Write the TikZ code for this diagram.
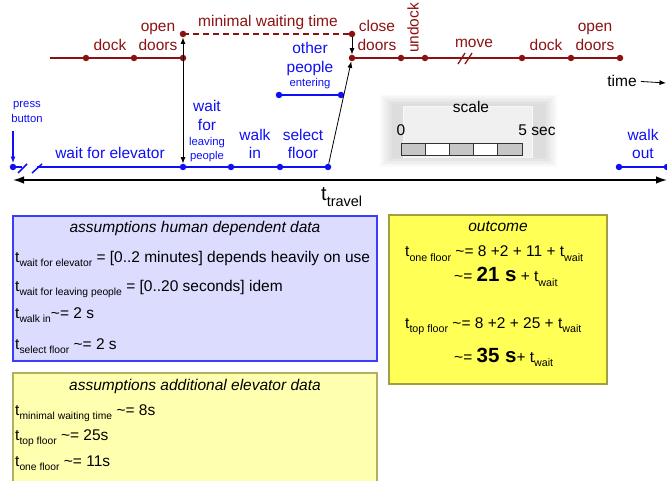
\documentclass[tikz,border=0pt]{standalone}
\usepackage{fontspec}
\setmainfont{Liberation Sans}
\usetikzlibrary{arrows.meta}
\definecolor{brn}{RGB}{140,18,18}
\definecolor{blu}{RGB}{15,15,245}
\definecolor{bluefill}{RGB}{220,220,255}
\definecolor{blueedge}{RGB}{60,60,255}
\definecolor{yelfill}{RGB}{255,255,176}
\definecolor{yeledge}{RGB}{176,176,96}
\definecolor{outfill}{RGB}{255,255,85}
\definecolor{outedge}{RGB}{160,160,64}
\newcommand{\sbs}[1]{\raisebox{-4pt}{\fontsize{10.3}{10}\selectfont #1}}
\newcommand{\sbt}[1]{\raisebox{-4.5pt}{\fontsize{10.7}{10}\selectfont #1}}
\newcommand{\ap}{\textasciitilde=}
\begin{document}
\begin{tikzpicture}[x=1pt,y=-1pt,
  lbl/.style={inner sep=0pt, anchor=base, font=\fontsize{15.5}{18}\selectfont},
  sml/.style={inner sep=0pt, anchor=base, font=\fontsize{11.3}{13}\selectfont},
  bl/.style={lbl, text=blu}, bls/.style={sml, text=blu}, br/.style={lbl, text=brn},
  txt/.style={inner sep=0pt, anchor=base west, font=\fontsize{15.5}{18}\selectfont},
  ttl/.style={inner sep=0pt, anchor=base, font=\fontsize{15.5}{18}\selectfont\itshape},
  bdot/.style={circle, fill=brn, inner sep=0pt, minimum size=6.5pt},
  udot/.style={circle, fill=blu, inner sep=0pt, minimum size=6.5pt},
  brline/.style={draw=brn, line width=2pt},
  buline/.style={draw=blu, line width=2pt},
  thinarrow/.style={draw=black, line width=0.8pt},
  mytip/.tip={Latex[length=6.5pt,width=5pt]},
  bigtip/.tip={Latex[length=11pt,width=7.5pt]}
]
\useasboundingbox (0,0) rectangle (667,481);

% ---------- scale box ----------
\foreach \i in {0,...,6} {
  \fill[black, opacity=0.018] (380+2*\i,95+1.5*\i) rectangle (557-2*\i,167-1.5*\i);
}
\filldraw[fill=gray!12, draw=gray!6, line width=0.8pt] (403,106) rectangle (532,157);
\node[lbl] (sc) at (471,113) {scale};
\node[lbl] (s0) at (401,136) {0};
\node[lbl] (s5) at (537,136) {5 sec};
\foreach \i/\c in {0/gray!45,1/white,2/gray!45,3/white,4/gray!45} {
  \filldraw[fill=\c, draw=black!80, line width=0.8pt] (401+24.2*\i,143) rectangle (401+24.2*\i+24.2,155);
}

% ---------- brown (elevator) timeline ----------
\coordinate (bs) at (50,58);
\node[bdot] (b1) at (86,58) {};
\node[bdot] (b2) at (134,58) {};
\node[bdot] (b3) at (183,58) {};
\node[bdot] (o1) at (183,34) {};
\node[bdot] (c1) at (352,34) {};
\node[bdot] (c2) at (352,58) {};
\node[bdot] (b4) at (401,58) {};
\node[bdot] (b5) at (425,58) {};
\node[bdot] (b6) at (522,58) {};
\node[bdot] (b7) at (571,58) {};
\node[bdot] (b8) at (620,58) {};
\draw[brline] (bs) -- (b3.center);
\draw[brline] (c2.center) -- (b8.center);
\draw[brline, dash pattern=on 6pt off 4pt] (o1.center) -- (c1.center);
\draw[draw=brn, line width=1.3pt] (458,64) -- (465,53);
\draw[draw=brn, line width=1.3pt] (465,64) -- (472,53);

\node[br] (l1) at (110,51) {dock};
\node[br] (l2) at (158,32) {open};
\node[br] (l3) at (158,51) {doors};
\node[br] (l4) at (268,27) {minimal waiting time};
\node[br] (l5) at (377,32) {close};
\node[br] (l6) at (377,51) {doors};
\node[lbl, text=brn, anchor=center, rotate=90] (l7) at (413,28) {undock};
\node[br] (l8) at (474,48) {move};
\node[br] (l9) at (546,51) {dock};
\node[br] (l10) at (595,32) {open};
\node[br] (l11) at (595,51) {doors};

% ---------- blue (person) timeline ----------
\node[udot] (p0) at (13,167) {};
\node[udot] (p1) at (183,167) {};
\node[udot] (p2) at (231,167) {};
\node[udot] (p3) at (280,167) {};
\node[udot] (p4) at (328,167) {};
\coordinate (g1) at (22,167);
\coordinate (g2) at (37,167);
\draw[buline] (p0.center) -- (g1);
\draw[buline] (g2) -- (p4.center);
\draw[draw=blu, line width=1.5pt] (18,173) -- (27,164);
\draw[draw=blu, line width=1.5pt] (32,173) -- (42,164);
\node[udot] (e1) at (279,95) {};
\node[udot] (e2) at (341,95) {};
\draw[buline] (e1.center) -- (e2.center);
\node[udot] (w1) at (619,167) {};
\node[udot] (w2) at (667,167) {};
\draw[buline] (w1.center) -- (w2.center);

\coordinate (pb) at (13,131);
\draw[draw=blu, line width=1.5pt, -{Latex[length=7pt,width=5pt]}] (pb) -- (p0);

\node[bls] (t1) at (27,108) {press};
\node[bls] (t2) at (27,123) {button};
\node[bl] (t3) at (110,159) {wait for elevator};
\node[bl] (t4) at (207,112) {wait};
\node[bl] (t5) at (207,131) {for};
\node[bls] (t6) at (207,146) {leaving};
\node[bls] (t7) at (207,160) {people};
\node[bl] (t8) at (255,141) {walk};
\node[bl] (t9) at (255,159) {in};
\node[bl] (t10) at (303,141) {select};
\node[bl] (t11) at (303,159) {floor};
\node[bl] (t12) at (310,54) {other};
\node[bl] (t13) at (310,73) {people};
\node[bls] (t14) at (310,87) {entering};
\node[bl] (t15) at (643,141) {walk};
\node[bl] (t16) at (643,159) {out};

% ---------- black connectors ----------
\draw[thinarrow, mytip-mytip] (o1) -- (p1);
\draw[thinarrow, -mytip] (c1) -- (c2);
\draw[thinarrow, -mytip] (p4) -- (c2);
\coordinate (ax1) at (13,180);
\coordinate (ax2) at (667,180);
\draw[line width=1.5pt, bigtip-bigtip] (ax1) -- (ax2);
\node[inner sep=0pt, anchor=base west, font=\fontsize{20}{22}\selectfont] (tt) at (321,201) {t\raisebox{-6pt}{\fontsize{14.5}{14}\selectfont travel}};
\node[lbl] (tm) at (622,87) {time};
\coordinate (te) at (666,83);
\draw[thinarrow, -mytip] ([xshift=4pt]tm.east) -- (te);

% ---------- assumption boxes ----------
\filldraw[fill=bluefill, draw=blueedge, line width=1.2pt] (13,216) rectangle (377,361);
\node[ttl] (h1) at (195,233) {assumptions human dependent data};
\node[txt] (h2) at (15,263) {t\sbs{wait for elevator} = [0..2 minutes] depends heavily on use};
\node[txt] (h3) at (15,291) {t\sbs{wait for leaving people} = [0..20 seconds] idem};
\node[txt] (h4) at (15,319) {t\sbs{walk in}\ap{} 2 s};
\node[txt] (h5) at (15,349) {t\sbs{select floor} \ap{} 2 s};

\filldraw[fill=yelfill, draw=yeledge, line width=1.2pt] (13,373) rectangle (377,492);
\node[ttl] (a1) at (195,390) {assumptions additional elevator data};
\node[txt] (a2) at (15,415) {t\sbs{minimal waiting time} \ap{} 8s};
\node[txt] (a3) at (15,440) {t\sbs{top floor} \ap{} 25s};
\node[txt] (a4) at (15,466) {t\sbs{one floor} \ap{} 11s};

\filldraw[fill=outfill, draw=outedge, line width=1.2pt] (389,215) rectangle (607,384);
\node[ttl] (u1) at (498,232) {outcome};
\node[txt] (u2) at (405,257) {t\sbt{one floor} \ap{} 8 +2 + 11 + t\sbt{wait}};
\node[txt] (u3) at (454,282) {\ap{} {\fontsize{20.5}{22}\selectfont\bfseries 21 s} + t\sbt{wait}};
\node[txt] (u4) at (405,328) {t\sbt{top floor} \ap{} 8 +2 + 25 + t\sbt{wait}};
\node[txt] (u5) at (454,362) {\ap{} {\fontsize{20.5}{22}\selectfont\bfseries 35 s}+ t\sbt{wait}};
\end{tikzpicture}
\end{document}
